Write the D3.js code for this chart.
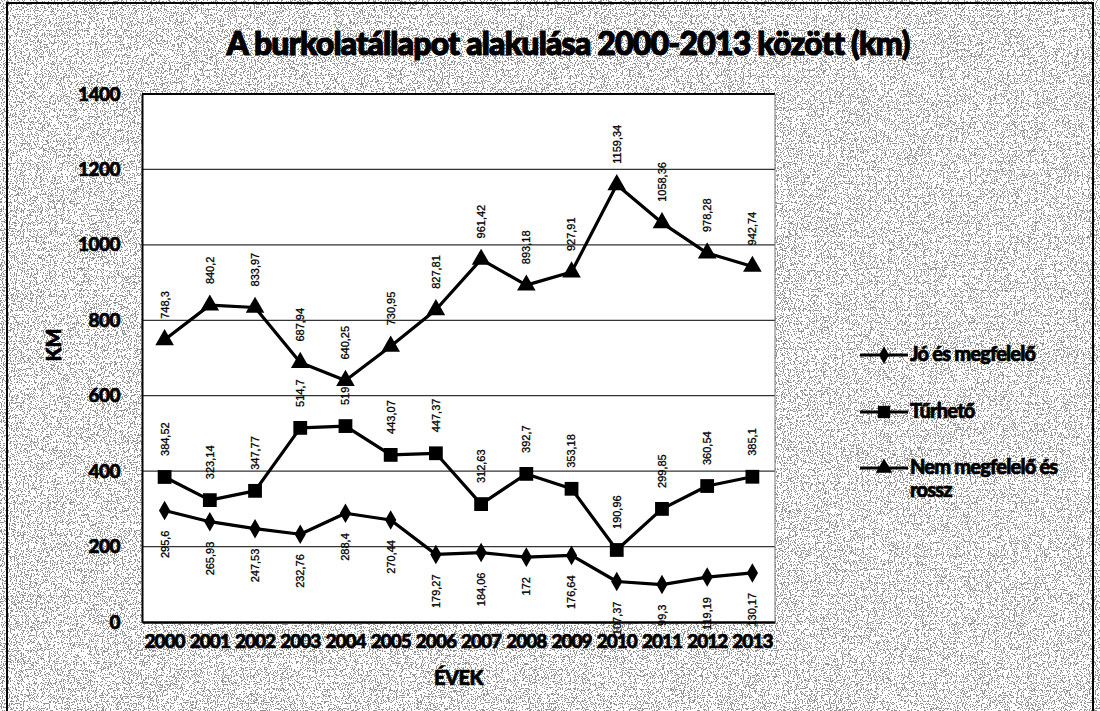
<!DOCTYPE html>
<html>
<head>
<meta charset="utf-8">
<script src="https://cdn.jsdelivr.net/npm/d3@7"></script>
<style>
  html, body { margin: 0; padding: 0; background: #fff; }
  svg { display: block; }
</style>
</head>
<body>
<svg id="chart"></svg>
<script>
// data
const years = ['2000', '2001', '2002', '2003', '2004', '2005', '2006', '2007', '2008', '2009', '2010', '2011', '2012', '2013'];
const joValues = [295.6, 265.93, 247.53, 232.76, 288.4, 270.44, 179.27, 184.06, 172, 176.64, 107.37, 99.3, 119.19, 130.17];
const turhetoValues = [384.52, 323.14, 347.77, 514.7, 519.5, 443.07, 447.37, 312.63, 392.7, 353.18, 190.96, 299.85, 360.54, 385.1];
const nemValues = [748.3, 840.2, 833.97, 687.94, 640.25, 730.95, 827.81, 961.42, 893.18, 927.91, 1159.34, 1058.36, 978.28, 942.74];
const yTicks = [0, 200, 400, 600, 800, 1000, 1200, 1400];

const seriesList = [
  { name: 'Jó és megfelelő', values: joValues, symbol: d3.symbolDiamond, size: 110, labelPos: 'below' },
  { name: 'Tűrhető', values: turhetoValues, symbol: d3.symbolSquare, size: 190, labelPos: 'above' },
  { name: 'Nem megfelelő és rossz', values: nemValues, symbol: d3.symbolTriangle, size: 150, labelPos: 'above' }
];

const width = 1100, height = 711;
const plot = { left: 142, right: 775, top: 94, bottom: 622 };
const fmt = v => String(v).replace('.', ',');
const boldFont = 'Lato, "Open Sans", sans-serif';

const svg = d3.select('#chart').attr('width', width).attr('height', height);

// scanned-paper speckle for the outer area
const defs = svg.append('defs');
const noise = defs.append('filter').attr('id', 'speckle')
  .attr('x', 0).attr('y', 0).attr('width', '100%').attr('height', '100%');
noise.append('feTurbulence').attr('type', 'fractalNoise')
  .attr('baseFrequency', 0.85).attr('numOctaves', 2).attr('seed', 3);
noise.append('feColorMatrix').attr('type', 'matrix')
  .attr('values', '0 0 0 0 0  0 0 0 0 0  0 0 0 0 0  -2.2 0 0 0 1.45');
noise.append('feComponentTransfer').append('feFuncA')
  .attr('type', 'discrete').attr('tableValues', '0 1');

svg.append('rect').attr('width', width).attr('height', height).attr('fill', '#fff');
svg.append('rect').attr('width', width).attr('height', height)
  .attr('filter', 'url(#speckle)').attr('opacity', 0.42);

// outer frame
svg.append('rect')
  .attr('x', 7).attr('y', 3).attr('width', 1086).attr('height', 712)
  .attr('fill', 'none').attr('stroke', '#000').attr('stroke-width', 2);

const x = d3.scaleBand().domain(years).range([plot.left, plot.right]).padding(0);
const cx = d => x(d) + x.bandwidth() / 2;
const y = d3.scaleLinear().domain([0, 1400]).range([plot.bottom, plot.top]);

// plot area
svg.append('rect')
  .attr('x', plot.left).attr('y', plot.top)
  .attr('width', plot.right - plot.left).attr('height', plot.bottom - plot.top)
  .attr('fill', '#fff');

// gridlines
svg.append('g')
  .selectAll('line')
  .data(yTicks.filter(t => t > 0))
  .enter()
  .append('line')
  .attr('x1', plot.left).attr('x2', plot.right)
  .attr('y1', d => y(d)).attr('y2', d => y(d))
  .attr('stroke', d => d === 1400 ? '#000' : '#333')
  .attr('stroke-width', d => d === 1400 ? 2 : 1.2);

const heavy = sel => sel
  .style('font-family', boldFont)
  .style('font-weight', '900')
  .attr('fill', '#000')
  .attr('stroke', '#000')
  .attr('stroke-width', 0.7);

// y axis
const yAxis = svg.append('g')
  .attr('transform', `translate(${plot.left},0)`)
  .call(d3.axisLeft(y).tickValues(yTicks).tickFormat(d3.format('d')).tickSize(0).tickPadding(22));
yAxis.select('.domain').attr('stroke', '#000').attr('stroke-width', 2);
yAxis.selectAll('text')
  .call(heavy)
  .style('font-size', '19px')
  .style('letter-spacing', '-0.5px');

// x axis
const xAxis = svg.append('g')
  .attr('transform', `translate(0,${plot.bottom})`)
  .call(d3.axisBottom(x).tickSize(0).tickPadding(13));
xAxis.select('.domain').attr('stroke', '#000').attr('stroke-width', 2.5);
xAxis.selectAll('text')
  .call(heavy)
  .style('font-size', '19px')
  .style('letter-spacing', '-1px');

// right edge of plot
svg.append('line')
  .attr('x1', plot.right).attr('x2', plot.right)
  .attr('y1', plot.top).attr('y2', plot.bottom)
  .attr('stroke', '#777').attr('stroke-width', 1);

// axis titles
svg.append('text')
  .attr('x', (plot.left + plot.right) / 2)
  .attr('y', 685)
  .attr('text-anchor', 'middle')
  .call(heavy)
  .style('font-size', '20px')
  .style('letter-spacing', '-0.5px')
  .text('ÉVEK');

svg.append('text')
  .attr('transform', 'translate(61,345) rotate(-90)')
  .attr('text-anchor', 'middle')
  .call(heavy)
  .style('font-size', '20px')
  .text('KM');

// title
svg.append('text')
  .attr('x', 568)
  .attr('y', 55)
  .attr('text-anchor', 'middle')
  .call(heavy)
  .style('font-size', '32px')
  .style('letter-spacing', '-0.8px')
  .attr('stroke-width', 1.2)
  .text('A burkolatállapot alakulása 2000-2013 között (km)');

// series lines, markers and labels
const line = d3.line()
  .x((d, i) => cx(years[i]))
  .y(d => y(d));

seriesList.forEach(s => {
  const g = svg.append('g');

  g.append('path')
    .datum(s.values)
    .attr('d', line)
    .attr('fill', 'none')
    .attr('stroke', '#000')
    .attr('stroke-width', 3.2)
    .attr('stroke-linejoin', 'round');

  g.selectAll('path.marker')
    .data(s.values)
    .enter()
    .append('path')
    .attr('class', 'marker')
    .attr('d', d3.symbol().type(s.symbol).size(s.size))
    .attr('transform', (d, i) => `translate(${cx(years[i])},${y(d)})`)
    .attr('fill', '#000');

  g.selectAll('text.label')
    .data(s.values)
    .enter()
    .append('text')
    .attr('class', 'label')
    .attr('transform', (d, i) => {
      const ly = s.labelPos === 'above' ? y(d) - 21 : y(d) + 20;
      return `translate(${cx(years[i]) + 1},${ly}) rotate(-90)`;
    })
    .attr('text-anchor', s.labelPos === 'above' ? 'start' : 'end')
    .attr('dominant-baseline', 'middle')
    .style('font-family', '"Liberation Sans", Arial, sans-serif')
    .style('font-size', '11px')
    .attr('fill', '#000')
    .attr('stroke', '#000')
    .attr('stroke-width', 0.3)
    .text(d => fmt(d));
});

// legend
const legendRows = [355, 412, 468];
seriesList.forEach((s, i) => {
  const lg = svg.append('g').attr('transform', `translate(860,${legendRows[i]})`);
  lg.append('line')
    .attr('x1', 0).attr('x2', 48)
    .attr('stroke', '#000').attr('stroke-width', 3.2);
  lg.append('path')
    .attr('d', d3.symbol().type(s.symbol).size(s.size * 0.8))
    .attr('transform', 'translate(24,0)')
    .attr('fill', '#000');
  const t = lg.append('text')
    .attr('x', 50)
    .attr('y', 6)
    .call(heavy)
    .style('font-size', '20px')
    .style('letter-spacing', '-0.8px');
  if (i === 2) {
    t.append('tspan').text('Nem megfelelő és');
    t.append('tspan').attr('x', 50).attr('dy', 23).text('rossz');
  } else {
    t.text(s.name);
  }
});
</script>
</body>
</html>
